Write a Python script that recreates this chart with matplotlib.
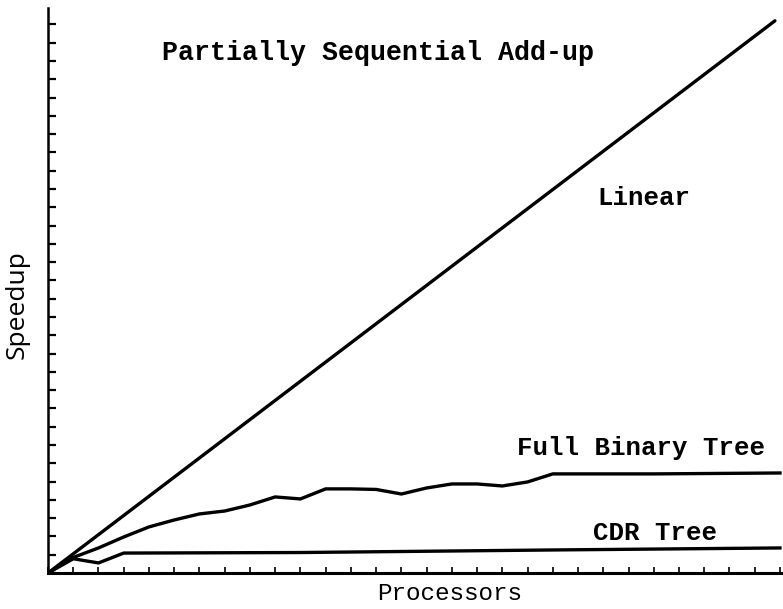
import matplotlib
matplotlib.use("Agg")
import matplotlib.pyplot as plt

# ---- data ----
linear_x = [0, 28.8]
linear_y = [0, 30.2]

processors = list(range(0, 30))
full_binary = [0, 0.85, 1.37, 1.97, 2.52, 2.90, 3.23, 3.39, 3.72, 4.16,
               4.05, 4.60, 4.60, 4.57, 4.32, 4.65, 4.87, 4.87, 4.76, 4.98,
               5.42, 5.42, 5.42, 5.42, 5.42, 5.43, 5.44, 5.45, 5.46, 5.47]

cdr_x = [0, 1, 2, 3, 10, 20, 29]
cdr_y = [0, 0.78, 0.55, 1.09, 1.12, 1.26, 1.37]

x_ticks = list(range(0, 30))
y_ticks = list(range(0, 31))

title = "Partially Sequential Add-up"
labels = ["Linear", "Full Binary Tree", "CDR Tree"]

W, H, DPI = 783, 609, 100
fig = plt.figure(figsize=(W / DPI, H / DPI), dpi=DPI)
left, bottom = 48 / W, (H - 573) / H
ax = fig.add_axes([left, bottom, 782 / W - left, (573 - 8) / H])

ax.set_xlim(0, 29.08)
ax.set_ylim(0, 30.9)

lw = 2.4
ax.plot(linear_x, linear_y, color="black", lw=lw, solid_capstyle="round")
ax.plot(processors, full_binary, color="black", lw=lw, solid_joinstyle="round")
ax.plot(cdr_x, cdr_y, color="black", lw=lw, solid_joinstyle="round")

for s in ["top", "right"]:
    ax.spines[s].set_visible(False)
ax.spines["left"].set_linewidth(1.8)
ax.spines["bottom"].set_linewidth(2.2)

ax.set_xticks(x_ticks)
ax.set_yticks(y_ticks)
ax.tick_params(axis="y", direction="in", length=6, width=1.6, labelleft=False)
ax.tick_params(axis="x", direction="in", length=4, width=1.2, labelbottom=False)

mono = "Liberation Mono"
fs = 18.5
ax.text(4.52, 28.08, title, family=mono, fontsize=19.2, weight="bold",
        ha="left", va="baseline")
ax.text(21.75, 20.14, labels[0], family=mono, fontsize=fs, weight="bold",
        ha="left", va="baseline")
ax.text(18.58, 6.46, labels[1], family=mono, fontsize=fs, weight="bold",
        ha="left", va="baseline")
ax.text(21.59, 1.81, labels[2], family=mono, fontsize=fs, weight="bold",
        ha="left", va="baseline")

ax.text(13.03, -1.48, "Processors", family=mono, fontsize=17.5,
        ha="left", va="baseline", clip_on=False)

fig.text(17 / W, 1 - 305 / H, "Speedup", family="Open Sans", fontsize=19,
         rotation=90, ha="center", va="center")

fig.savefig("out.png", dpi=DPI)
